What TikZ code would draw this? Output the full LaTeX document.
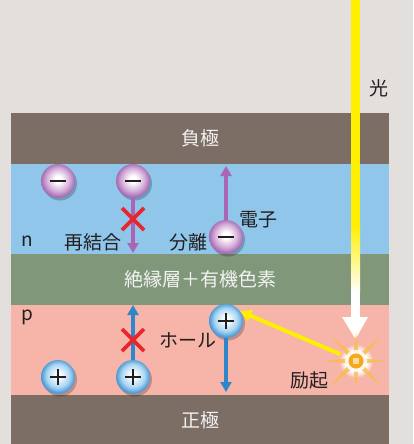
\documentclass[tikz,border=0pt]{standalone}
\usepackage{fontspec}
\newfontfamily\jp{Noto Sans CJK JP}
\usetikzlibrary{arrows.meta,shadows,calc}

\definecolor{bgc}{HTML}{E3DFDC}
\definecolor{electrode}{HTML}{7C6D65}
\definecolor{ntype}{HTML}{8FC6EA}
\definecolor{insul}{HTML}{80977A}
\definecolor{ptype}{HTML}{F7B4A8}
\definecolor{epurple}{HTML}{A866B4}
\definecolor{eedge}{HTML}{A46AB3}
\definecolor{emid}{HTML}{D4ADD9}
\definecolor{hblue}{HTML}{2F86C9}
\definecolor{hedge}{HTML}{4A97D4}
\definecolor{hmid}{HTML}{A9D6F2}
\definecolor{crossred}{HTML}{E8262D}
\definecolor{beam}{HTML}{FFEF00}
\definecolor{txt}{HTML}{231F20}
\definecolor{rayc}{HTML}{F8BE4C}
\definecolor{corec}{HTML}{F5A81E}

% sphere shadings: bright core, coloured rim
\pgfdeclareradialshading{elecball}{\pgfpoint{0bp}{3bp}}{%
  color(0bp)=(white); color(5bp)=(white); color(17bp)=(emid);
  color(25bp)=(eedge); color(50bp)=(eedge)}
\pgfdeclareradialshading{holeball}{\pgfpoint{0bp}{3bp}}{%
  color(0bp)=(white); color(5bp)=(white!90!hmid); color(17bp)=(hmid);
  color(25bp)=(hedge); color(50bp)=(hedge)}
% soft glow around the excitation point
\pgfdeclareradialshading{glow}{\pgfpoint{0bp}{0bp}}{%
  color(0bp)=(white); color(16bp)=(white); color(25bp)=(ptype); color(50bp)=(ptype)}

\tikzset{
  band/.style={rectangle, inner sep=0pt, outer sep=0pt, minimum width=378pt,
    text=white!95!black, font=\jp\fontsize{19}{19}\selectfont},
  lbl/.style={inner sep=0pt, text=txt, font=\jp\fontsize{19}{19}\selectfont},
  electron/.style={circle, inner sep=0pt, minimum size=34pt, shading=elecball,
    drop shadow={shadow xshift=2pt, shadow yshift=-2.5pt, opacity=0.22, fill=black}},
  hole/.style={circle, inner sep=0pt, minimum size=34pt, shading=holeball,
    drop shadow={shadow xshift=2pt, shadow yshift=-2.5pt, opacity=0.22, fill=black}},
  sign/.style={line width=2.4pt, txt},
  earrow/.style={line width=3.2pt, epurple, -{Triangle[width=11pt,length=10pt]}},
  harrow/.style={line width=3.2pt, hblue, -{Triangle[width=11pt,length=10pt]}},
  blocked/.style={line width=3.6pt, crossred},
}

\begin{document}
\begin{tikzpicture}[x=1pt,y=-1pt]
\useasboundingbox (0,0) rectangle (413,444);
\fill[bgc] (0,0) rectangle (413,444);

% layer stack
\node[band, fill=electrode, minimum height=51pt] (neg) at (200,138.5) {負極};
\node[band, fill=ntype, minimum height=90pt] (nlayer) at (200,209) {};
\node[band, fill=insul, minimum height=51pt] (ins) at (200,279.5) {絶縁層＋有機色素};
\node[band, fill=ptype, minimum height=90pt] (player) at (200,350) {};
\node[band, fill=electrode, minimum height=51pt] (pos) at (200,420.5) {正極};

\node[lbl] (nlab) at (27,241) {n};
\node[lbl] (plab) at (27,317) {p};

% incoming light beam
\fill[beam] (351,0) rectangle (360,226);
\shade[top color=beam, bottom color=white] (351,225) rectangle (360,292);
\fill[white] (351,291) rectangle (360,318);
\fill[white] (342,317) -- (368,317) -- (355.5,339) -- cycle;
\node[lbl] (light) at (379,88) {光};

% holes and electrons
\node[hole] (h1) at (226,321) {};
\node[hole] (h2) at (58,377) {};
\node[hole] (h3) at (133,377) {};
\node[electron] (e1) at (58,181) {};
\node[electron] (e2) at (133,181) {};
\node[electron] (e3) at (226,237) {};

\foreach \n in {e1,e2,e3}{
  \draw[sign] ([xshift=-8pt]\n.center) -- ([xshift=8pt]\n.center);
}
\foreach \n in {h1,h2,h3}{
  \draw[sign] ([xshift=-8pt]\n.center) -- ([xshift=8pt]\n.center);
  \draw[sign] ([yshift=-8pt]\n.center) -- ([yshift=8pt]\n.center);
}

% carrier motion
\coordinate (e2end) at (133,253);
\coordinate (e3end) at (226,166);
\coordinate (h1end) at (226,392);
\coordinate (h3end) at (133,305);
\draw[earrow] (e2.south) -- (e2end);
\draw[earrow] (e3.north) -- (e3end);
\draw[harrow] (h1.south) -- (h1end);
\draw[harrow] (h3.north) -- (h3end);

% blocked recombination
\coordinate (x1) at (133,219);
\coordinate (x2) at (133,340);
\foreach \c in {x1,x2}{
  \draw[blocked] ($(\c)+(-11,-11)$) -- ($(\c)+(11,11)$);
  \draw[blocked] ($(\c)+(-11,11)$) -- ($(\c)+(11,-11)$);
}

% excitation burst
\coordinate (starc) at (356,361);
\draw[line width=4pt, beam, -{Triangle[width=12pt,length=11pt]}] (starc) -- (h1.34);
\node[circle, inner sep=0pt, minimum size=34pt, shading=glow] (star) at (starc) {};
\foreach \a/\r in {0/30,45/35,90/27,135/37,180/32,225/35,270/29,315/35}{
  \fill[rayc, opacity=0.85] ($(starc)+(\a:\r)$) -- ($(starc)+(\a+90:3.4)$)
     -- ($(starc)+(\a+180:3.4)$) -- ($(starc)+(\a-90:3.4)$) -- cycle;
}
\fill[white, opacity=0.85] (starc) circle (11pt);
\fill[corec] (starc) circle (7.5pt);
\fill[rayc!55!white] ($(starc)+(-3,-3)$) rectangle ($(starc)+(3,3)$);

% labels
\node[lbl] (recomb) at (93,242) {再結合};
\node[lbl] (separ) at (188,242) {分離};
\node[lbl] (elec) at (258,220) {電子};
\node[lbl] (holel) at (188,340) {ホール};
\node[lbl] (excite) at (309,380) {励起};
\end{tikzpicture}
\end{document}
